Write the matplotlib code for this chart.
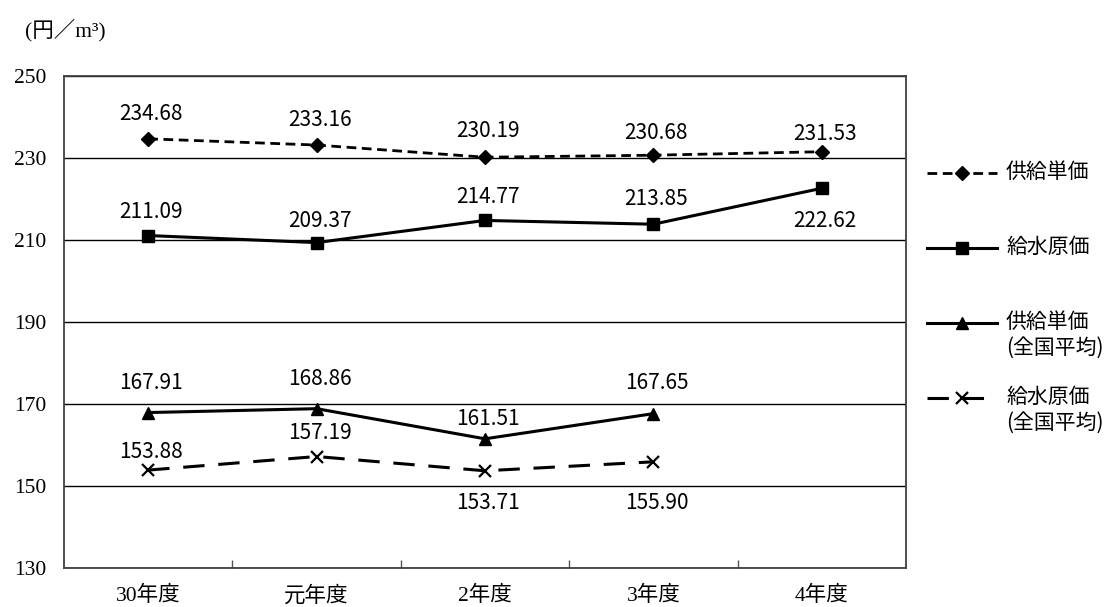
import numpy as np
import matplotlib
matplotlib.use("Agg")
import matplotlib.pyplot as plt
from matplotlib.lines import Line2D

# data
years = ["30年度", "元年度", "2年度", "3年度", "4年度"]
kyokyu = [234.68, 233.16, 230.19, 230.68, 231.53]
kyusui = [211.09, 209.37, 214.77, 213.85, 222.62]
kyokyu_zenkoku = [167.91, 168.86, 161.51, 167.65]
kyusui_zenkoku = [153.88, 157.19, 153.71, 155.90]

# label offsets in pixels (+ above, - below)
dy_kyokyu = [25, 25, 26, 22, 18]
dy_kyusui = [24, 22, 23, 25, -33]
dy_kyokyu_z = [30, 30, 20, 31]
dy_kyusui_z = [18, 24, -32, -41]

serif = ["Liberation Serif", "Noto Sans CJK JP"]
sans = ["Noto Sans CJK JP", "DejaVu Sans"]

W, H = 1109, 607
fig = plt.figure(figsize=(W / 100, H / 100), dpi=100)
ax = fig.add_axes([64 / W, 1 - 568 / H, (906 - 64) / W, (568 - 76) / H])

x = np.arange(len(years))
ax.plot(x, kyokyu, color="black", lw=2.0, ls=(0, (3.5, 2)), marker="D", ms=7, zorder=3)
ax.plot(x, kyusui, color="black", lw=2.2, ls="-", marker="s", ms=8.5, zorder=3)
ax.plot(x[:4], kyokyu_zenkoku, color="black", lw=2.2, ls="-", marker="^", ms=9, zorder=3)
ax.plot(x[:4], kyusui_zenkoku, color="black", lw=2.2, ls=(0, (7, 4.5)), marker="x", ms=8, mew=1.6, zorder=3)


def labels(vals, dys):
    for i, (v, d) in enumerate(zip(vals, dys)):
        ax.annotate("%.2f" % v, (x[i], v), xytext=(3, d), textcoords="offset pixels",
                    ha="center", va="center", fontsize=15, family=sans)


labels(kyokyu, dy_kyokyu)
labels(kyusui, dy_kyusui)
labels(kyokyu_zenkoku, dy_kyokyu_z)
labels(kyusui_zenkoku, dy_kyusui_z)

ax.set_xlim(-0.5, len(years) - 0.5)
ax.set_ylim(130, 250)
ax.set_yticks(np.arange(130, 251, 20))
ax.set_xticks(x)
ax.set_xticklabels(years, family=serif, fontsize=15.5)
ax.set_xticks(np.arange(0.5, len(years) - 0.5, 1), minor=True)
ax.tick_params(axis="x", which="major", length=0, pad=13)
ax.tick_params(axis="x", which="minor", direction="in", length=6, width=1, color="#555555")
ax.tick_params(axis="y", length=0, pad=13)
for t in ax.get_yticklabels():
    t.set_family(serif)
    t.set_fontsize(15.5)
ax.yaxis.grid(True, color="black", lw=1.0)
ax.set_axisbelow(True)
for s in ax.spines.values():
    s.set_color("#404040")
    s.set_linewidth(1.3)

fig.text(25 / W, 1 - 30 / H, "(円／m³)", family=serif, fontsize=15.5, va="center", ha="left")

# legend drawn by hand
def px(xp, yp):
    return xp / W, 1 - yp / H


legend_items = [
    ("供給単価", dict(ls=(0, (3.5, 2)), lw=2.0), dict(marker="D", ms=7), 173),
    ("給水原価", dict(ls="-", lw=2.2), dict(marker="s", ms=8.5), 248),
    ("供給単価\n(全国平均)", dict(ls="-", lw=2.2), dict(marker="^", ms=9), 323),
    ("給水原価\n(全国平均)", dict(ls=(0, (7, 4.5)), lw=2.2), dict(marker="x", ms=8, mew=1.6), 398),
]
for text, lstyle, mstyle, yp in legend_items:
    x0, y0 = px(927, yp)
    x1, _ = px(997, yp)
    xm, _ = px(962, yp)
    fig.add_artist(Line2D([x0, x1], [y0, y0], color="black", transform=fig.transFigure, **lstyle))
    fig.add_artist(Line2D([xm], [y0], color="black", ls="none", transform=fig.transFigure, **mstyle))
    fig.text(1006 / W, y0 + 12 / H, text, family=sans, fontsize=15, va="top", ha="left",
             linespacing=1.2, transform=fig.transFigure)

fig.savefig("out.png", dpi=100)
